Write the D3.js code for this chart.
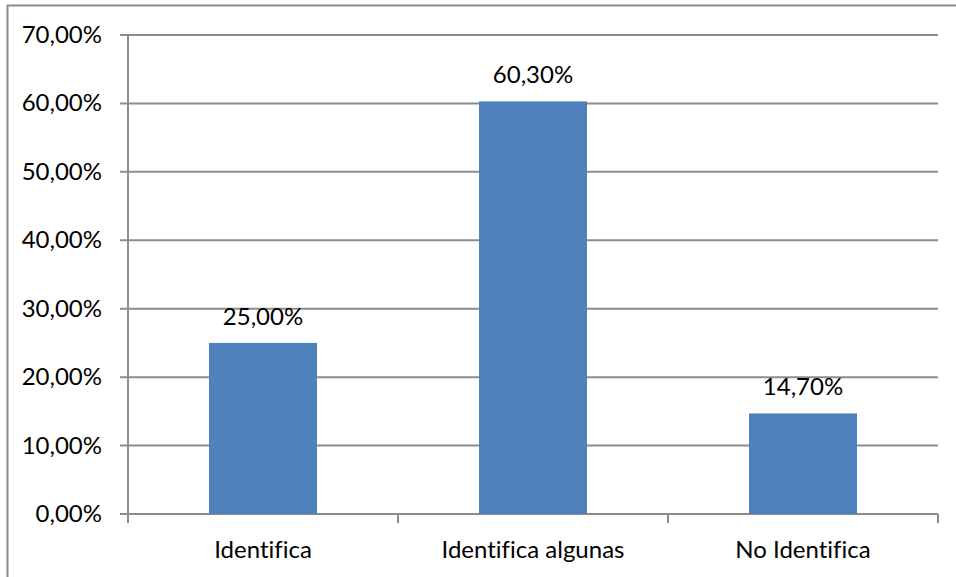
<!DOCTYPE html>
<html>
<head>
<meta charset="utf-8">
<script src="https://cdn.jsdelivr.net/npm/d3@7"></script>
<style>
    body { margin: 0; background: #fff; }
    text { font-family: Lato, "Open Sans", sans-serif; fill: #000; font-variant-ligatures: none; }
</style>
</head>
<body>
<svg id="chart" width="956" height="577"></svg>
<script>
// chart data
var categories = ["Identifica", "Identifica algunas", "No Identifica"];
var values = [25.0, 60.3, 14.7];
var yTicks = [0, 10, 20, 30, 40, 50, 60, 70];

(function () {
    var svg = d3.select("#chart");
    var plotLeft = 128, plotRight = 938, plotTop = 35, plotBottom = 514;
    var fontSize = 24;
    var fmt = function (v) { return v.toFixed(2).replace(".", ",") + "%"; };

    // outer frame (runs off right and bottom edges)
    svg.append("rect")
        .attr("x", 7.5).attr("y", 5.5)
        .attr("width", 960).attr("height", 600)
        .attr("fill", "none").attr("stroke", "#8c8c8c").attr("stroke-width", 2);

    var x = d3.scaleBand().domain(categories).range([plotLeft, plotRight]).paddingInner(0.6).paddingOuter(0.3);
    var y = d3.scaleLinear().domain([0, 70]).range([plotBottom, plotTop]);

    // gridlines
    svg.append("g").selectAll("line").data(yTicks).enter().append("line")
        .attr("x1", plotLeft - 8).attr("x2", plotRight)
        .attr("y1", function (d) { return y(d); }).attr("y2", function (d) { return y(d); })
        .attr("stroke", "#8c8c8c").attr("stroke-width", 2);

    // y axis line
    svg.append("line")
        .attr("x1", plotLeft).attr("x2", plotLeft).attr("y1", plotTop).attr("y2", plotBottom)
        .attr("stroke", "#8c8c8c").attr("stroke-width", 2);

    // category ticks
    var edges = [plotLeft].concat(categories.map(function (c) { return x(c) + x.bandwidth() / 2 + x.step() / 2; }));
    svg.append("g").selectAll("line").data(edges).enter().append("line")
        .attr("x1", function (d) { return d; }).attr("x2", function (d) { return d; })
        .attr("y1", plotBottom).attr("y2", plotBottom + 9)
        .attr("stroke", "#8c8c8c").attr("stroke-width", 2);

    // y tick labels
    svg.append("g").selectAll("text").data(yTicks).enter().append("text")
        .attr("x", 102).attr("y", function (d) { return y(d) + 8; })
        .attr("text-anchor", "end").attr("font-size", fontSize)
        .text(fmt);

    // bars
    svg.append("g").selectAll("rect").data(values).enter().append("rect")
        .attr("x", function (d, i) { return x(categories[i]); })
        .attr("width", x.bandwidth())
        .attr("y", function (d) { return y(d); })
        .attr("height", function (d) { return plotBottom - y(d); })
        .attr("fill", "#4f81bd");

    // data labels
    svg.append("g").selectAll("text").data(values).enter().append("text")
        .attr("x", function (d, i) { return x(categories[i]) + x.bandwidth() / 2; })
        .attr("y", function (d) { return y(d) - 18; })
        .attr("text-anchor", "middle").attr("font-size", fontSize)
        .text(fmt);

    // category labels
    svg.append("g").selectAll("text").data(categories).enter().append("text")
        .attr("x", function (d) { return x(d) + x.bandwidth() / 2; })
        .attr("y", 558)
        .attr("text-anchor", "middle").attr("font-size", fontSize)
        .text(function (d) { return d; });
})();
</script>
</body>
</html>
